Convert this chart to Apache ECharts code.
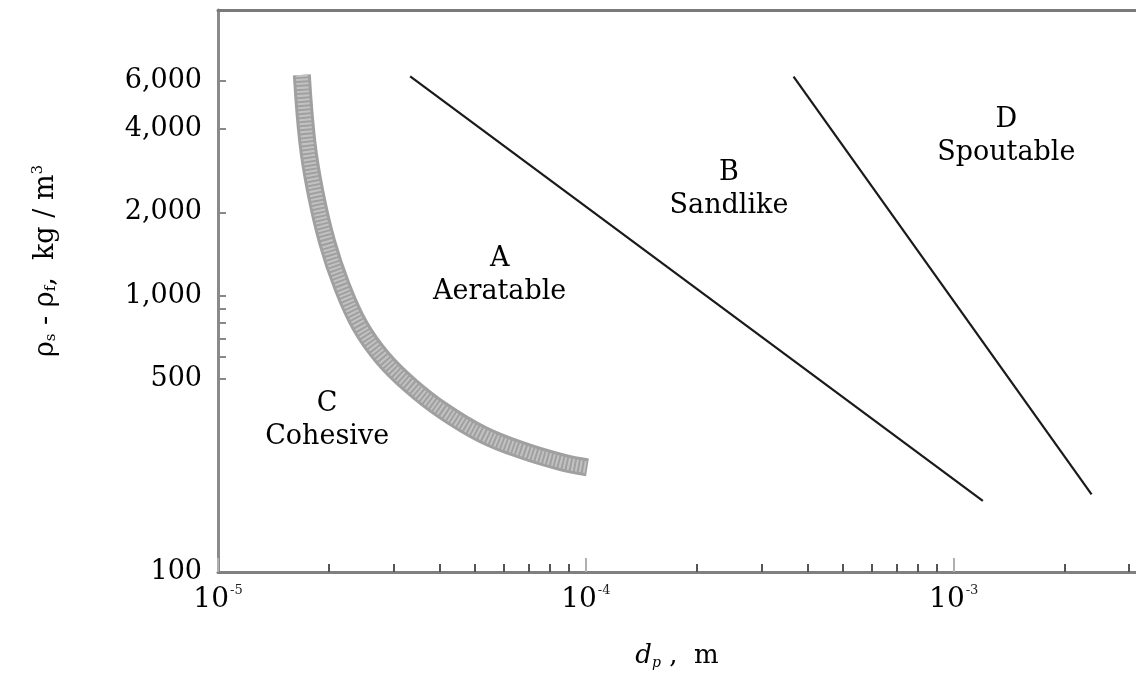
<!DOCTYPE html>
<html>
<head>
<meta charset="utf-8">
<script src="https://cdn.jsdelivr.net/npm/echarts@6/dist/echarts.min.js"></script>
<style>html,body{margin:0;padding:0;background:#fff}#c{width:1136px;height:675px}</style>
</head>
<body>
<div id="c"></div>
<script>
// Particle diameter d_p (m) and density difference (kg/m^3)
const cohesiveBoundaryX = [1.69e-5, 1.75e-5, 1.84e-5, 1.98e-5, 2.17e-5, 2.43e-5, 2.81e-5, 3.33e-5, 4.09e-5, 5.25e-5, 6.74e-5, 8.65e-5, 1.01e-4];
const cohesiveBoundaryY = [6290, 3580, 2366, 1564, 1086, 780, 593, 474, 383, 314, 275, 249, 239];
const sandlikeBoundaryX = [3.33e-5, 1.2e-3];
const sandlikeBoundaryY = [6210, 181];
const spoutableBoundaryX = [3.67e-4, 2.37e-3];
const spoutableBoundaryY = [6200, 191];
const regionNames = ['A\nAeratable', 'B\nSandlike', 'C\nCohesive', 'D\nSpoutable'];
const regionX = [5.83e-5, 2.45e-4, 1.98e-5, 1.39e-3];
const regionY = [1180, 2427, 352, 3767];
const xMajorTicks = [1e-5, 1e-4, 1e-3];
const xMinorTicks = [2e-5,3e-5,4e-5,5e-5,6e-5,7e-5,8e-5,9e-5,2e-4,3e-4,4e-4,5e-4,6e-4,7e-4,8e-4,9e-4,2e-3,3e-3];
const yTickLabels = [100, 500, 1000, 2000, 4000, 6000];
const yTicks = [500, 600, 700, 800, 900, 1000, 2000, 4000, 6000];
const X_MIN = 1e-5, X_MAX = 3.13e-3, Y_MIN = 100, Y_MAX = 10800;

const zip = (xs, ys) => xs.map((x, i) => [x, ys[i]]);
const FONT = 'DejaVu Serif';

const chart = echarts.init(document.getElementById('c'));
chart.setOption({
  animation: false,
  backgroundColor: '#fff',
  grid: { left: 218, right: 0, top: 10, bottom: 100, containLabel: false },
  xAxis: [
    {
      type: 'log', min: X_MIN, max: X_MAX, position: 'bottom',
      name: '{i|d}{sub|p}{n| ,  m}', nameLocation: 'middle', nameGap: 70,
      nameTextStyle: {
        rich: {
          i: { fontFamily: FONT, fontStyle: 'italic', fontSize: 26, color: '#000' },
          sub: { fontFamily: FONT, fontStyle: 'italic', fontSize: 14, color: '#000', padding: [14, 0, 0, 0] },
          n: { fontFamily: FONT, fontSize: 26, color: '#000' }
        }
      },
      axisLine: { show: true, lineStyle: { color: '#808080', width: 3 } },
      axisTick: { show: true, inside: true, length: 14, customValues: xMajorTicks, lineStyle: { color: '#b0b0b0', width: 2 } },
      axisLabel: {
        customValues: xMajorTicks, margin: 12,
        formatter: v => '{b|10}{s|' + Math.round(Math.log10(v)) + '}',
        rich: {
          b: { fontFamily: FONT, fontSize: 28, color: '#000' },
          s: { fontFamily: FONT, fontSize: 13, color: '#222', padding: [0, 0, 18, 1] }
        }
      },
      splitLine: { show: false }
    },
    {
      type: 'log', min: X_MIN, max: X_MAX, position: 'bottom',
      axisLine: { show: false },
      axisTick: { show: true, inside: true, length: 8, customValues: xMinorTicks, lineStyle: { color: '#555', width: 2 } },
      axisLabel: { show: false },
      splitLine: { show: false }
    },
    {
      type: 'log', min: X_MIN, max: X_MAX, position: 'top',
      axisLine: { show: true, lineStyle: { color: '#7a7a7a', width: 3 } },
      axisTick: { show: false }, axisLabel: { show: false }, splitLine: { show: false }
    }
  ],
  yAxis: [
    {
      type: 'log', min: Y_MIN, max: Y_MAX,
      name: '{a|ρ}{s|s}{a| - ρ}{s|f}{a|,  kg / m}{p|3}', nameLocation: 'middle', nameGap: 158, nameRotate: 90,
      nameTextStyle: {
        padding: [0, 0, 0, 60],
        rich: {
          a: { fontFamily: FONT, fontSize: 27, color: '#000' },
          s: { fontFamily: FONT, fontSize: 15, color: '#000', padding: [12, 0, 0, 0] },
          p: { fontFamily: FONT, fontSize: 15, color: '#000', padding: [0, 0, 14, 0] }
        }
      },
      axisLine: { show: true, lineStyle: { color: '#8a8a8a', width: 3 } },
      axisTick: { show: true, inside: true, length: 8, customValues: yTicks, lineStyle: { color: '#888', width: 2 } },
      axisLabel: {
        customValues: yTickLabels, margin: 16,
        fontFamily: FONT, fontSize: 27, color: '#000',
        formatter: v => Math.round(v).toLocaleString('en-US')
      },
      splitLine: { show: false }
    }
  ],
  series: [
    {
      type: 'line', name: 'C/A boundary', data: zip(cohesiveBoundaryX, cohesiveBoundaryY),
      smooth: 0.4, showSymbol: false, symbol: 'none',
      lineStyle: { color: '#a0a0a0', width: 18, cap: 'butt' }, z: 2
    },
    {
      type: 'line', name: 'C/A boundary texture', data: zip(cohesiveBoundaryX, cohesiveBoundaryY),
      smooth: 0.4, showSymbol: false, symbol: 'none',
      lineStyle: { color: '#c2c2c2', width: 12, type: [2, 2], cap: 'butt' }, z: 3
    },
    {
      type: 'line', name: 'A/B boundary', data: zip(sandlikeBoundaryX, sandlikeBoundaryY),
      showSymbol: false, symbol: 'none',
      lineStyle: { color: '#1a1a1a', width: 2.2 }, z: 4
    },
    {
      type: 'line', name: 'B/D boundary', data: zip(spoutableBoundaryX, spoutableBoundaryY),
      showSymbol: false, symbol: 'none',
      lineStyle: { color: '#1a1a1a', width: 2.2 }, z: 4
    },
    {
      type: 'scatter', name: 'regions',
      data: regionNames.map((n, i) => ({ name: n, value: [regionX[i], regionY[i]] })),
      symbolSize: 1, silent: true,
      itemStyle: { opacity: 1, color: 'rgba(0,0,0,0)' },
      label: {
        show: true, position: 'inside', formatter: '{b}', align: 'center', verticalAlign: 'middle',
        fontFamily: FONT, fontSize: 27, lineHeight: 33, color: '#000', opacity: 1,
        textBorderWidth: 0
      }, z: 5
    }
  ]
});
</script>
</body>
</html>
